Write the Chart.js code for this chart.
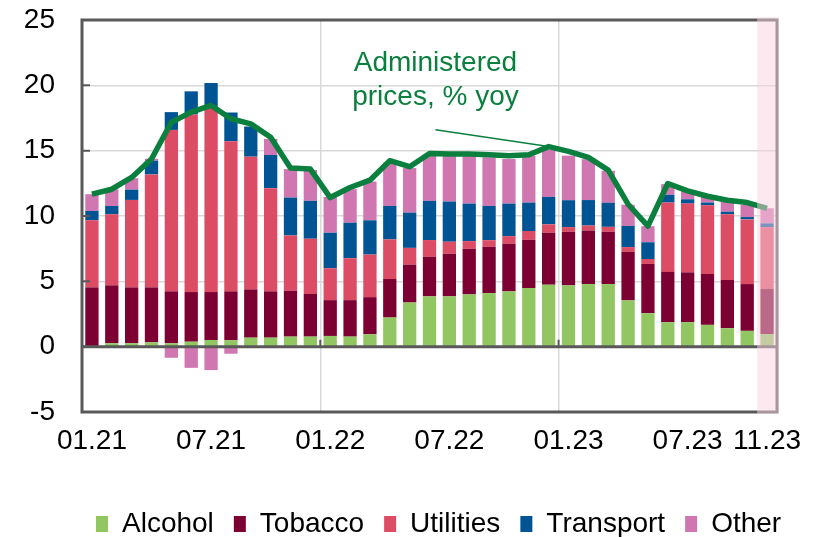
<!DOCTYPE html>
<html>
<head>
<meta charset="utf-8">
<script src="https://cdn.jsdelivr.net/npm/chart.js@4.4.1/dist/chart.umd.min.js"></script>
<style>
  html, body { margin: 0; padding: 0; background: #fff; }
</style>
</head>
<body>
<canvas id="chart" width="821" height="537"></canvas>
<script>
const months = [
    "01.21", "02.21", "03.21", "04.21", "05.21", "06.21", "07.21", "08.21", "09.21", "10.21", "11.21", "12.21",
    "01.22", "02.22", "03.22", "04.22", "05.22", "06.22", "07.22", "08.22", "09.22", "10.22", "11.22", "12.22",
    "01.23", "02.23", "03.23", "04.23", "05.23", "06.23", "07.23", "08.23", "09.23", "10.23", "11.23"
];
const tickShown = ["01.21", "07.21", "01.22", "07.22", "01.23", "07.23", "11.23"];

const alcohol   = [0.0, 0.26, 0.26, 0.33, 0.26, 0.38, 0.51, 0.49, 0.69, 0.69, 0.77, 0.77,
                   0.82, 0.77, 0.95, 2.23, 3.38, 3.85, 3.85, 4.0, 4.1, 4.23, 4.49, 4.74,
                   4.69, 4.79, 4.79, 3.54, 2.56, 1.87, 1.87, 1.67, 1.41, 1.21, 0.97];
const tobacco   = [4.54, 4.43, 4.28, 4.21, 3.97, 3.8, 3.67, 3.74, 3.69, 3.54, 3.51, 3.26,
                   2.74, 2.79, 2.84, 2.95, 2.9, 3.03, 3.26, 3.49, 3.54, 3.64, 3.69, 3.98,
                   4.1, 4.1, 4.0, 3.72, 3.77, 3.85, 3.82, 3.89, 3.69, 3.58, 3.44];
const utilities = [5.13, 5.44, 6.69, 8.64, 12.36, 13.59, 14.15, 11.49, 10.16, 7.9, 4.23, 4.23,
                   2.44, 3.21, 3.26, 3.03, 1.28, 1.28, 0.92, 0.59, 0.51, 0.59, 0.67, 0.64,
                   0.36, 0.38, 0.38, 0.36, 0.38, 5.31, 5.26, 5.26, 5.03, 4.95, 4.74];
const transport = [0.72, 0.64, 0.79, 1.05, 1.36, 1.77, 1.85, 2.2, 2.31, 2.54, 2.9, 2.9,
                   2.72, 2.72, 2.62, 2.56, 2.7, 3.0, 3.08, 2.87, 2.62, 2.49, 2.18, 2.1,
                   2.06, 1.95, 1.85, 1.62, 1.28, 0.59, 0.33, 0.21, 0.2, 0.18, 0.29];
const other     = [1.28, 1.28, 0.87, 0.15, -0.85, -1.62, -1.79, -0.54, 0, 1.23, 2.18, 2.36,
                   2.74, 2.56, 2.97, 3.33, 3.41, 3.54, 3.51, 3.67, 3.72, 3.41, 3.59, 3.59,
                   3.41, 3.13, 2.44, 1.62, 1.23, 0.82, 0.64, 0.43, 0.77, 0.93, 1.15];
const administered = [11.67, 12.05, 12.95, 14.36, 17.18, 17.95, 18.46, 17.44, 17.05, 16.03, 13.67, 13.59,
                      11.41, 12.18, 12.74, 14.23, 13.77, 14.79, 14.74, 14.74, 14.69, 14.62, 14.69, 15.31,
                      14.95, 14.49, 13.51, 10.9, 9.23, 12.49, 11.92, 11.51, 11.21, 11.03, 10.59];

const yMin = -5;
const yMax = 25;
const yStep = 5;

const noteLines = ["Administered", "prices, % yoy"];
const noteMonth = "12.22";

const FONT = "'Liberation Sans', Arial, sans-serif";
const GREEN = "#0a7f3e";
const AXIS = "#595959";
const GRID = "#d9d9d9";

Chart.defaults.font.family = FONT;
Chart.defaults.color = "#000";

function barSet(label, data, color) {
    return {
        type: "bar",
        label: label,
        data: data,
        backgroundColor: color,
        borderWidth: 0,
        stack: "parts",
        order: 1
    };
}

// frame, zero line, highlight of the last month and the annotation
const framePlugin = {
    id: "frame",
    afterLayout(chart) {
        const lg = chart.legend;
        const area = chart.chartArea;
        lg.left = area.left - 6;
        lg.right = chart.width;
        lg.top = area.bottom + 78;
    },
    afterDatasetsDraw(chart) {
        const { ctx, chartArea: a, scales } = chart;
        const x = scales.x;
        const y = scales.y;
        const half = (x.getPixelForValue(1) - x.getPixelForValue(0)) / 2;

        ctx.save();
        ctx.strokeStyle = AXIS;

        // inner ticks on the value axis
        ctx.lineWidth = 2;
        ctx.beginPath();
        y.ticks.forEach(t => {
            const py = y.getPixelForValue(t.value);
            ctx.moveTo(a.left, py);
            ctx.lineTo(a.left + 8, py);
        });
        // year ticks on the zero line
        const y0 = y.getPixelForValue(0);
        months.forEach((m, i) => {
            if (i > 0 && m.startsWith("01.")) {
                const px = x.getPixelForValue(i) - half;
                ctx.moveTo(px, y0);
                ctx.lineTo(px, y0 - 7);
            }
        });
        ctx.stroke();

        ctx.lineWidth = 3;
        ctx.beginPath();
        ctx.moveTo(a.left, y0);
        ctx.lineTo(a.right, y0);
        ctx.stroke();
        ctx.strokeRect(a.left, a.top, a.right - a.left, a.bottom - a.top);

        // annotation
        const ax = x.getPixelForValue(17.3);
        ctx.fillStyle = GREEN;
        ctx.font = "28px " + FONT;
        ctx.textAlign = "center";
        ctx.textBaseline = "middle";
        ctx.fillText(noteLines[0], ax, y.getPixelForValue(21.7));
        ctx.fillText(noteLines[1], ax, y.getPixelForValue(19.1));

        const ni = months.indexOf(noteMonth);
        ctx.strokeStyle = GREEN;
        ctx.lineWidth = 1.5;
        ctx.beginPath();
        ctx.moveTo(ax, y.getPixelForValue(16.6));
        ctx.lineTo(x.getPixelForValue(ni), y.getPixelForValue(administered[ni]));
        ctx.stroke();

        // last month shaded
        const lastLeft = x.getPixelForValue(months.length - 1) - half;
        ctx.fillStyle = "rgba(249, 209, 223, 0.5)";
        ctx.fillRect(lastLeft, a.top - 3, a.right + 2 - lastLeft, a.bottom - a.top + 5);

        ctx.restore();
    }
};

const ctx = document.getElementById("chart").getContext("2d");

new Chart(ctx, {
    data: {
        labels: months,
        datasets: [
            {
                type: "line",
                label: "Administered prices, % yoy",
                data: administered,
                borderColor: GREEN,
                borderWidth: 5.5,
                borderJoinStyle: "round",
                pointRadius: 0,
                tension: 0,
                fill: false,
                stack: "line",
                order: 0
            },
            barSet("Alcohol", alcohol, "#92c662"),
            barSet("Tobacco", tobacco, "#7c0032"),
            barSet("Utilities", utilities, "#dd4c65"),
            barSet("Transport", transport, "#005493"),
            barSet("Other", other, "#d076b0")
        ]
    },
    options: {
        responsive: false,
        animation: false,
        datasets: {
            bar: { barPercentage: 0.67, categoryPercentage: 1 }
        },
        layout: {
            padding: { top: 20, right: 44, left: 0, bottom: 0 }
        },
        plugins: {
            tooltip: { enabled: false },
            legend: {
                position: "bottom",
                align: "start",
                labels: {
                    filter: item => item.datasetIndex > 0,
                    boxWidth: 12,
                    boxHeight: 16,
                    padding: 20,
                    color: "#000",
                    font: { size: 28 }
                }
            }
        },
        scales: {
            x: {
                stacked: true,
                grid: {
                    offset: true,
                    drawTicks: false,
                    lineWidth: 1.5,
                    color: c => (c.index > 0 && (months[c.index] || "").startsWith("01.")) ? GRID : "transparent"
                },
                border: { display: false },
                ticks: {
                    autoSkip: false,
                    maxRotation: 0,
                    padding: 12,
                    font: { size: 28 },
                    callback: function (value) {
                        const lab = this.getLabelForValue(value);
                        return tickShown.includes(lab) ? lab : "";
                    }
                },
                afterFit: s => { s.height = 67; }
            },
            y: {
                stacked: true,
                min: yMin,
                max: yMax,
                grid: { color: GRID, lineWidth: 1.5, drawTicks: false },
                border: { display: false },
                ticks: {
                    stepSize: yStep,
                    padding: 27,
                    font: { size: 28 }
                },
                afterFit: s => {
                    s.width = 82;
                    s.paddingTop = 0;
                    s.paddingBottom = 0;
                }
            }
        }
    },
    plugins: [framePlugin]
});
</script>
</body>
</html>
